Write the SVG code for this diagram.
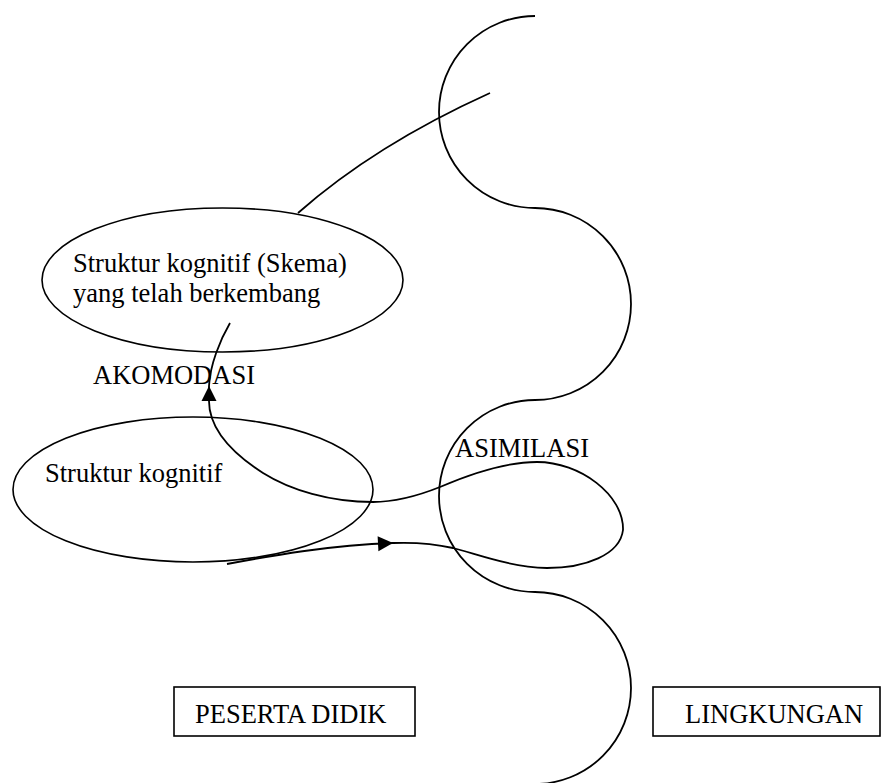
<svg xmlns="http://www.w3.org/2000/svg" width="882" height="783" viewBox="0 0 882 783">
<style>
  .lbl { font-family: "Liberation Serif", "Times New Roman", serif; font-size: 26.5px; fill: #000; }
  .shape { fill: none; stroke: #000; stroke-width: 1.6; }
  .conn { fill: none; stroke: #000; stroke-width: 1.8; }
  .box { fill: #fff; stroke: #000; stroke-width: 1.6; }
</style>
<defs>
  <path id="ah" d="M0,0 L-15,-7.5 L-15,7.5 Z" fill="#000"/>
</defs>
<rect width="882" height="783" fill="#fff"/>

<g id="boundary">
  <path class="conn" stroke-width="2" d="M535,16 A96,96 0 0 0 535,208 A96,96 0 0 1 535,400 A96,96 0 0 0 535,592 A96,96 0 0 1 535,784"/>
</g>

<g id="node-skema-berkembang">
  <ellipse class="shape" cx="222.5" cy="280" rx="180.5" ry="72"/>
  <text class="lbl" x="73" y="272">Struktur kognitif (Skema)</text>
  <text class="lbl" x="73" y="302">yang telah berkembang</text>
</g>

<g id="node-struktur-kognitif">
  <ellipse class="shape" cx="193" cy="489.5" rx="180" ry="72.5"/>
  <text class="lbl" x="45" y="482">Struktur kognitif</text>
</g>

<g id="node-peserta-didik">
  <rect class="box" x="174" y="687" width="241" height="49"/>
  <text class="lbl" x="195" y="723">PESERTA DIDIK</text>
</g>

<g id="node-lingkungan">
  <rect class="box" x="653" y="687" width="227" height="49"/>
  <text class="lbl" x="685" y="723">LINGKUNGAN</text>
</g>

<g id="connectors">
  <path class="conn" d="M298,213 Q375,145 490,93"/>
  <path class="conn" d="M227,564 C270,556 330,545 393,543 C420,542 440,545 453,548 C480,555 510,567 547,568 C585,568 620,555 623,530 C624,495 580,462 537,462 C505,462 470,474 440,487 C420,495 395,502 373,502 C330,502 290,490 263,473 C235,455 208,430 209,399 L209,386 C210,365 220,340 230,323"/>
  <use href="#ah" transform="translate(393,543) rotate(-3)"/>
  <use href="#ah" transform="translate(209,386) rotate(-90)"/>
</g>

<g id="labels">
  <text class="lbl" x="93" y="384">AKOMODASI</text>
  <text class="lbl" x="455" y="457">ASIMILASI</text>
</g>
</svg>
